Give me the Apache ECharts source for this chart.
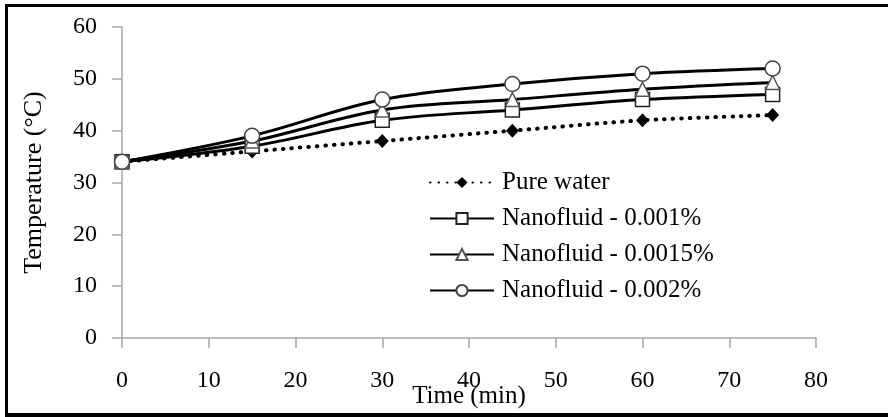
<!DOCTYPE html>
<html>
<head>
<meta charset="utf-8">
<script src="https://cdn.jsdelivr.net/npm/echarts@6/dist/echarts.min.js"></script>
<style>
html,body{margin:0;padding:0;background:#fff;}
#frame{position:absolute;left:5px;top:4px;width:883px;height:406px;border-left:3px solid #000;border-top:3px solid #000;border-bottom:4px solid #000;box-sizing:content-box;}
#chart{position:absolute;left:0;top:0;width:888px;height:417px;}
</style>
</head>
<body>
<div id="frame"></div>
<div id="chart"></div>
<script>
const times = [0, 15, 30, 45, 60, 75];
const seriesNames = ['Pure water', 'Nanofluid - 0.001%', 'Nanofluid - 0.0015%', 'Nanofluid - 0.002%'];
const pureWater = [34, 36, 38, 40, 42, 43];
const nano0010 = [34, 37, 42, 44, 46, 47];
const nano0015 = [34, 38, 44, 46, 48, 49.3];
const nano0020 = [34, 39, 46, 49, 51, 52];
const xTicks = [0, 10, 20, 30, 40, 50, 60, 70, 80];
const yTicks = [0, 10, 20, 30, 40, 50, 60];

const font = '"Liberation Serif", "Times New Roman", serif';
const axisGray = '#a6a6a6';
const pairs = v => times.map((t, i) => [t, v[i]]);

const chart = echarts.init(document.getElementById('chart'), null, {renderer: 'canvas'});
chart.setOption({
  backgroundColor: 'transparent',
  animation: false,
  grid: {left: 122, right: 72, top: 27, bottom: 79, containLabel: false, outerBoundsMode: 'none'},
  legend: {
    orient: 'vertical',
    left: 429,
    top: 170,
    padding: 0,
    itemWidth: 64,
    itemHeight: 14,
    itemGap: 11,
    data: seriesNames,
    textStyle: {fontFamily: font, fontSize: 25, color: '#000', lineHeight: 24, padding: [0, 0, 0, 3]}
  },
  xAxis: {
    type: 'value',
    min: xTicks[0],
    max: xTicks[xTicks.length - 1],
    interval: 10,
    name: 'Time (min)',
    nameLocation: 'middle',
    nameGap: 46,
    nameMoveOverlap: false,
    nameTextStyle: {fontFamily: font, fontSize: 25, color: '#000'},
    axisLine: {show: true, onZero: false, lineStyle: {color: axisGray, width: 1.5}},
    axisTick: {show: true, length: 10, inside: false, lineStyle: {color: axisGray, width: 1.5}},
    axisLabel: {fontFamily: font, fontSize: 24, color: '#000', margin: 31},
    splitLine: {show: false}
  },
  yAxis: {
    type: 'value',
    min: yTicks[0],
    max: yTicks[yTicks.length - 1],
    interval: 10,
    name: 'Temperature (°C)',
    nameLocation: 'middle',
    nameGap: 75,
    nameMoveOverlap: false,
    nameTextStyle: {fontFamily: font, fontSize: 26, color: '#000'},
    axisLine: {show: true, lineStyle: {color: axisGray, width: 1.5}},
    axisTick: {show: true, length: 10, inside: false, lineStyle: {color: axisGray, width: 1.5}},
    axisLabel: {fontFamily: font, fontSize: 24, color: '#000', margin: 25},
    splitLine: {show: false}
  },
  series: [
    {
      name: seriesNames[0], type: 'line', data: pairs(pureWater), smooth: 0.3,
      symbol: 'diamond', symbolSize: [13, 14],
      itemStyle: {color: '#000', borderColor: '#000', borderWidth: 0},
      lineStyle: {color: '#000', width: 4, type: [0.5, 8], cap: 'round'}
    },
    {
      name: seriesNames[1], type: 'line', data: pairs(nano0010), smooth: 0.35,
      symbol: 'rect', symbolSize: 14,
      itemStyle: {color: '#fff', borderColor: '#222', borderWidth: 1.5},
      lineStyle: {color: '#000', width: 3}
    },
    {
      name: seriesNames[2], type: 'line', data: pairs(nano0015), smooth: 0.35,
      symbol: 'triangle', symbolSize: 14,
      itemStyle: {color: '#fff', borderColor: '#555', borderWidth: 1.5},
      lineStyle: {color: '#000', width: 3}
    },
    {
      name: seriesNames[3], type: 'line', data: pairs(nano0020), smooth: 0.35,
      symbol: 'circle', symbolSize: 15,
      itemStyle: {color: '#fff', borderColor: '#444', borderWidth: 1.5},
      lineStyle: {color: '#000', width: 3}
    }
  ]
});
</script>
</body>
</html>
